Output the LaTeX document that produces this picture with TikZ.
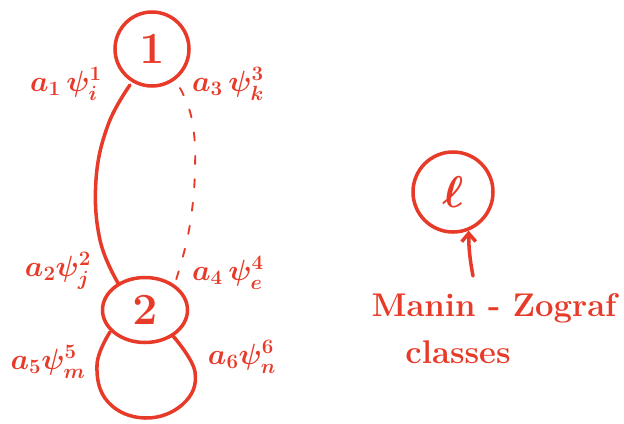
\RequirePackage{fix-cm}
\documentclass[tikz,border=0pt]{standalone}
\usepackage{amsmath}
\usetikzlibrary{arrows.meta,shapes.geometric}
\definecolor{ink}{RGB}{232,58,40}
\begin{document}
\begin{tikzpicture}[x=0.03cm,y=-0.03cm,
  pen/.style={draw=ink,line width=3pt,line cap=round,line join=round},
  vtx/.style={pen,inner sep=0pt,text=ink,font=\fontsize{38}{40}\selectfont\boldmath},
  lbl/.style={text=ink,inner sep=1pt,font=\fontsize{25}{27}\selectfont\boldmath},
  note/.style={text=ink,inner sep=1pt,font=\fontsize{28}{30}\selectfont\bfseries}]
\useasboundingbox (0,0) rectangle (624,423);
% vertices
\node[vtx,circle,minimum size=2.22cm] (v1) at (152,49) {$1$};
\node[vtx,ellipse,minimum width=2.55cm,minimum height=1.95cm] (v2) at (145,310) {$2$};
\node[vtx,circle,minimum size=2.4cm] (vl) at (453,192) {$\ell$};
% edge 1--2 (solid) and 1--2 (dashed)
\coordinate (s1) at (130,85);
\coordinate (s2) at (118,283);
\draw[pen] plot[smooth,tension=0.7] coordinates {(s1) (108,125) (96,180) (100,240) (s2)};
\coordinate (d1) at (180,88);
\coordinate (d2) at (176,280);
\draw[draw=ink,line width=1.6pt,line cap=round,dash pattern=on 7pt off 13pt]
  plot[smooth,tension=0.7] coordinates {(d1) (192,120) (195,170) (189,230) (d2)};
% self loop at vertex 2
\coordinate (l1) at (110,332);
\coordinate (l2) at (173,336);
\draw[pen] plot[smooth,tension=0.7] coordinates {(l1) (97,365) (108,402) (145,418) (183,404) (195,372) (l2)};
% half-edge labels
\node[lbl] (h1) at (66,84) {$a_1\,\psi_i^1$};
\node[lbl] (h3) at (228,84) {$a_3\,\psi_k^3$};
\node[lbl] (h2) at (58,271) {$a_2\psi_j^2$};
\node[lbl] (h4) at (228,273) {$a_4\,\psi_e^4$};
\node[lbl] (h5) at (48,362) {$a_5\psi_m^5$};
\node[lbl] (h6) at (242,357) {$a_6\psi_n^6$};
% Manin-Zograf annotation
\node[note] (mz) at (494,308) {Manin - Zograf};
\node[note] (cl) at (458,352) {classes};
\draw[pen,-{Straight Barb[length=7pt,width=12pt]}] (473,276) to[bend left=5] (vl.-68);
\end{tikzpicture}
\end{document}
